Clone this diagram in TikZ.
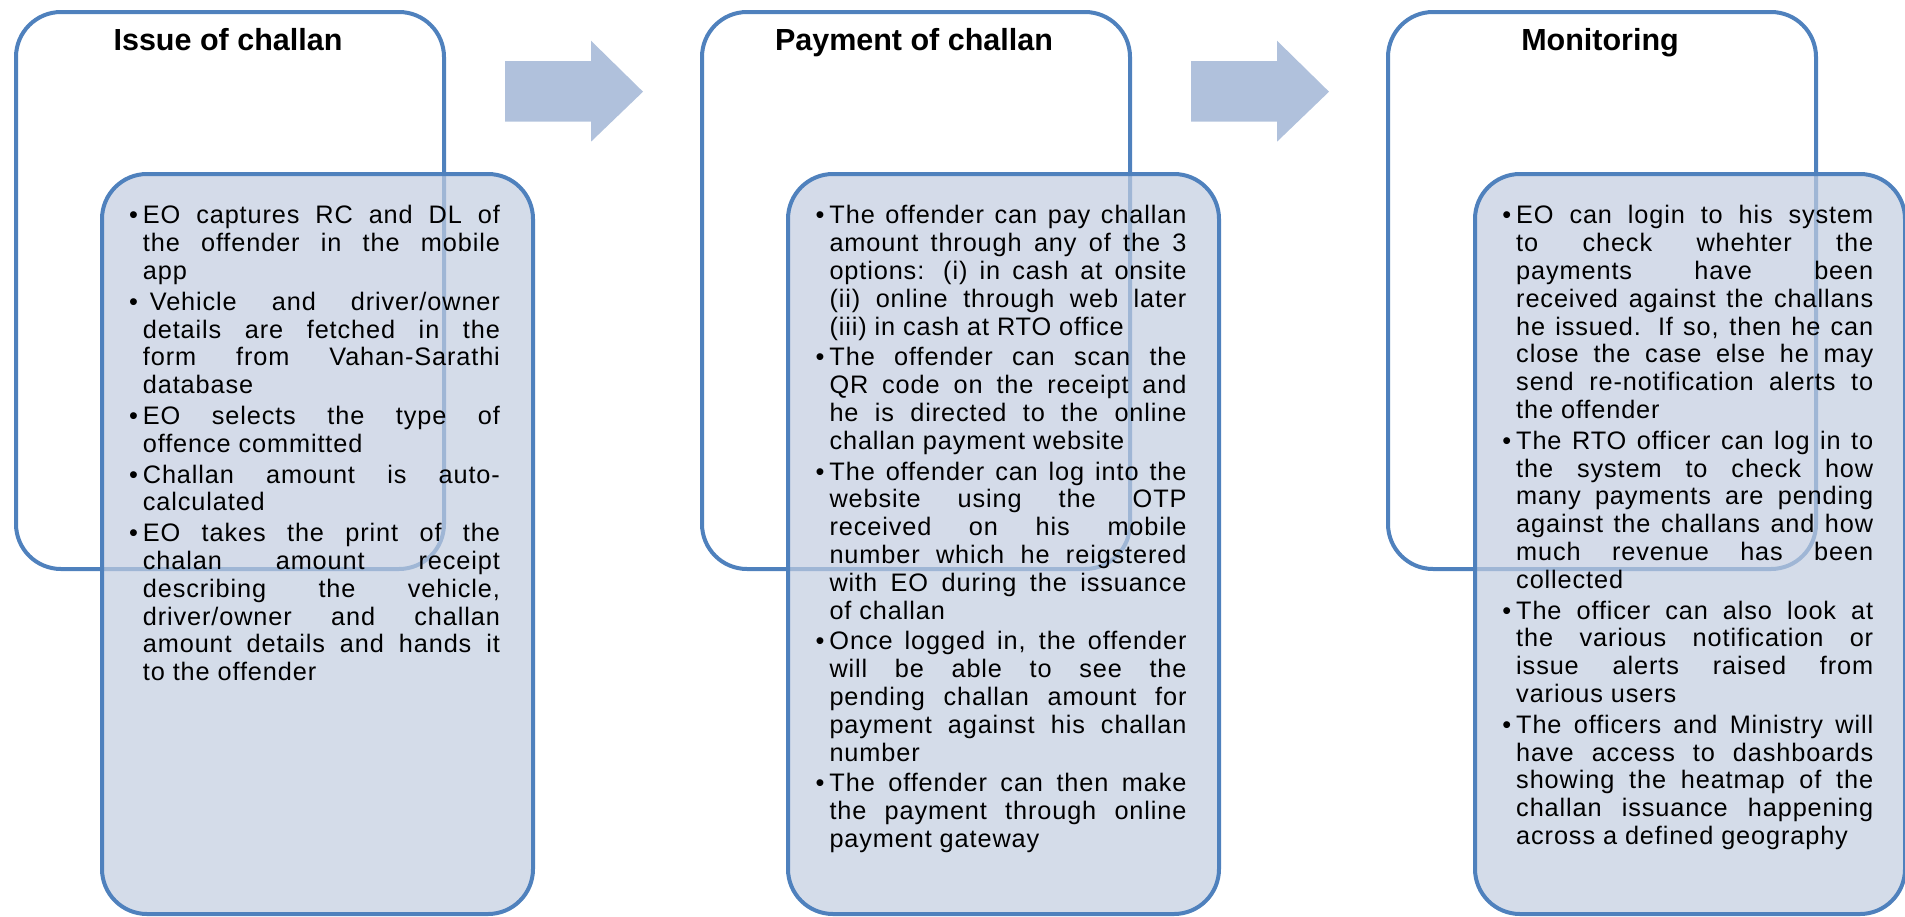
\documentclass[tikz,border=0pt]{standalone}
\usepackage{fontspec}
\setmainfont{Liberation Sans}
\newfontfamily\bodyfont[LetterSpace=3.5]{Liberation Sans}
\definecolor{edgeblue}{RGB}{79,129,189}
\definecolor{panelblue}{RGB}{194,205,224}
\definecolor{arrowblue}{RGB}{176,193,220}
\newcommand\jline[1]{\hbox to \hsize{#1}}
\newcommand\eline[1]{\hbox to \hsize{#1\hfil}}
\newcommand\bul{\llap{•\kern5pt}}
\newcommand\bgap{\kern3pt}
\begin{document}
\begin{tikzpicture}[x=1pt,y=-1pt,
  outerbox/.style={draw=edgeblue, line width=4pt, rounded corners=45pt, fill=white, inner sep=0pt, minimum width=428pt, minimum height=557pt, anchor=north west},
  innerbox/.style={draw=edgeblue, line width=4pt, rounded corners=45pt, fill=panelblue, fill opacity=0.7, inner sep=0pt, minimum width=431pt, minimum height=740pt, anchor=north west},
  titletext/.style={inner sep=0pt, anchor=base, font=\fontsize{30.5pt}{34pt}\selectfont\bfseries},
  bodytext/.style={inner sep=0pt, anchor=base west, font=\bodyfont\fontsize{25.3pt}{27.8pt}\selectfont},
  flowarrow/.style={fill=arrowblue}
]
\useasboundingbox (0,0) rectangle (1905,916);

% outer boxes
\node[outerbox] (o1) at (14,10) {};
\node[outerbox] (o2) at (700,10) {};
\node[outerbox] (o3) at (1386,10) {};

% titles
\node[titletext] (h1) at (228,50.7) {Issue of challan};
\node[titletext] (h2) at (914,50.7) {Payment of challan};
\node[titletext] (h3) at (1600,50.7) {Monitoring};

% arrows
\fill[flowarrow] (505,61) -- (591,61) -- (591,40.7) -- (643,91.7) -- (591,141.7) -- (591,121.7) -- (505,121.7) -- cycle;
\fill[flowarrow] (1191,61) -- (1277,61) -- (1277,40.7) -- (1329,91.7) -- (1277,141.7) -- (1277,121.7) -- (1191,121.7) -- cycle;

% inner boxes
\node[innerbox] (i1) at (100,172) {};
\node[innerbox] (i2) at (786,172) {};
\node[innerbox, minimum width=430pt] (i3) at (1473,172) {};

% texts
\node[bodytext] (t1) at (142.7,223.8) {\vtop{\hsize=357pt \lineskiplimit=-100pt
\jline{\bul EO captures RC and DL of}
\jline{the offender in the mobile}
\eline{app}
\bgap
\jline{\bul\kern7pt Vehicle and driver/owner}
\jline{details are fetched in the}
\jline{form from Vahan-Sarathi}
\eline{database}
\bgap
\jline{\bul EO selects the type of}
\eline{offence committed}
\bgap
\jline{\bul Challan amount is auto-}
\eline{calculated}
\bgap
\jline{\bul EO takes the print of the}
\jline{chalan amount receipt}
\jline{describing the vehicle,}
\jline{driver/owner and challan}
\jline{amount details and hands it}
\eline{to the offender}
}};

\node[bodytext] (t2) at (829.3,223.8) {\vtop{\hsize=357pt \lineskiplimit=-100pt
\jline{\bul The offender can pay challan}
\jline{amount through any of the 3}
\jline{options: (i) in cash at onsite}
\jline{(ii) online through web later}
\eline{(iii) in cash at RTO office}
\bgap
\jline{\bul The offender can scan the}
\jline{QR code on the receipt and}
\jline{he is directed to the online}
\eline{challan payment website}
\bgap
\jline{\bul The offender can log into the}
\jline{website using the OTP}
\jline{received on his mobile}
\jline{number which he reigstered}
\jline{with EO during the issuance}
\eline{of challan}
\bgap
\jline{\bul Once logged in, the offender}
\jline{will be able to see the}
\jline{pending challan amount for}
\jline{payment against his challan}
\eline{number}
\bgap
\jline{\bul The offender can then make}
\jline{the payment through online}
\eline{payment gateway}
}};

\node[bodytext] (t3) at (1516,223.8) {\vtop{\hsize=357pt \lineskiplimit=-100pt
\jline{\bul EO can login to his system}
\jline{to check whehter the}
\jline{payments have been}
\jline{received against the challans}
\jline{he issued. If so, then he can}
\jline{close the case else he may}
\jline{send re-notification alerts to}
\eline{the offender}
\bgap
\jline{\bul The RTO officer can log in to}
\jline{the system to check how}
\jline{many payments are pending}
\jline{against the challans and how}
\jline{much revenue has been}
\eline{collected}
\bgap
\jline{\bul The officer can also look at}
\jline{the various notification or}
\jline{issue alerts raised from}
\eline{various users}
\bgap
\jline{\bul The officers and Ministry will}
\jline{have access to dashboards}
\jline{showing the heatmap of the}
\jline{challan issuance happening}
\eline{across a defined geography}
}};
\end{tikzpicture}
\end{document}
